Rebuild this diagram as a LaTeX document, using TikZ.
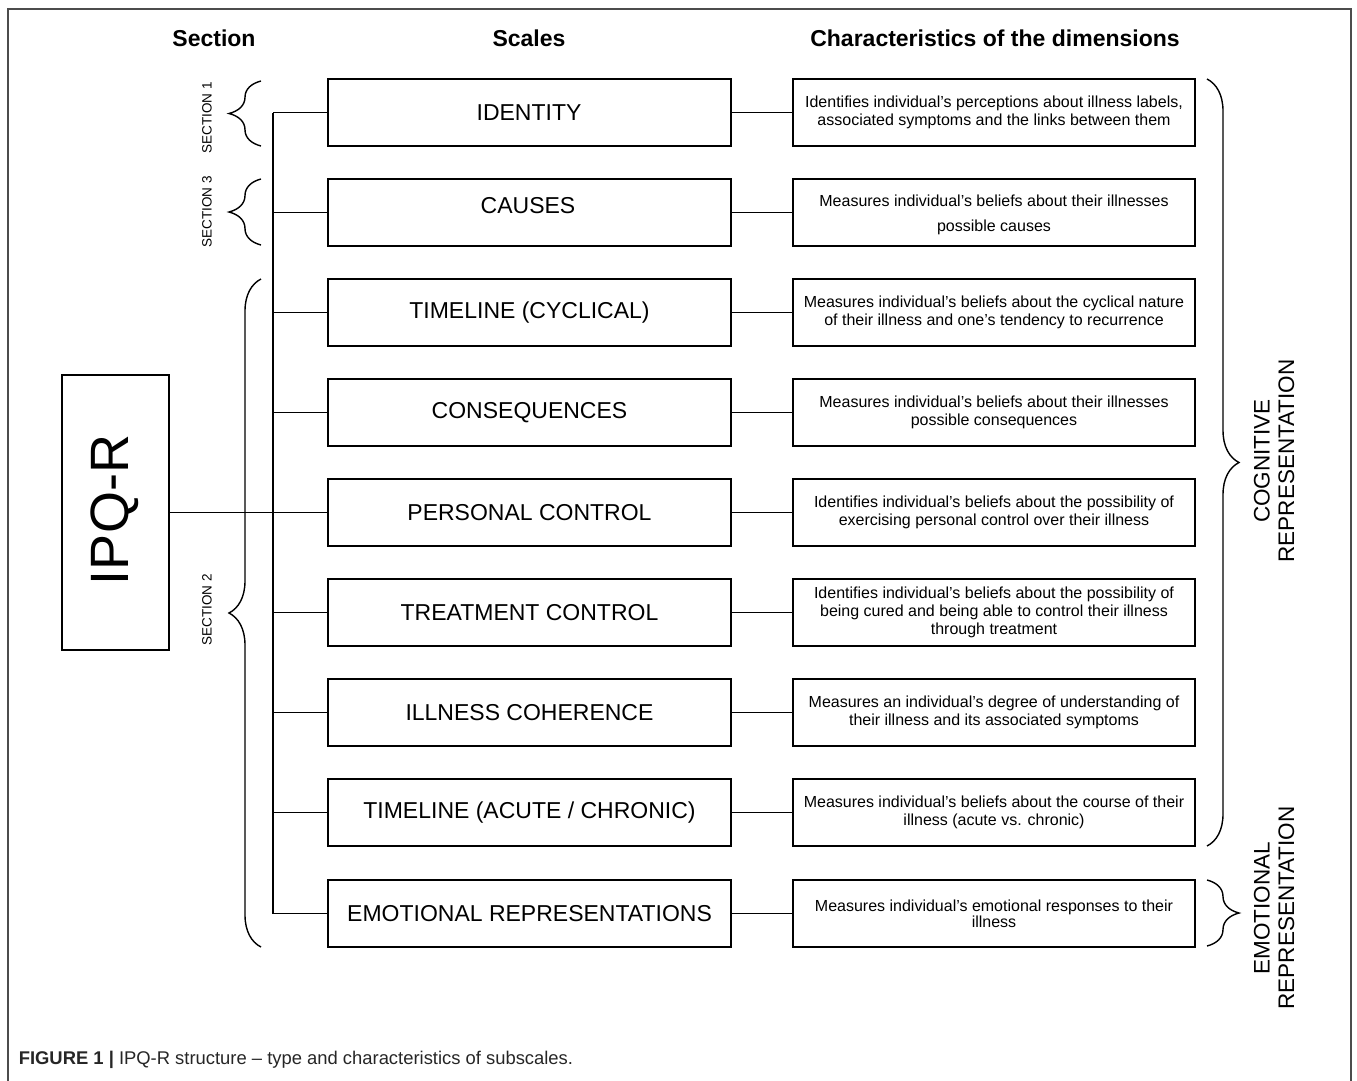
\documentclass[tikz,border=0pt]{standalone}
\usepackage{fontspec}
\setmainfont{Liberation Sans}
\usetikzlibrary{decorations.pathreplacing}
\begin{document}
\begin{tikzpicture}[x=1pt,y=-1pt,line width=1.6pt,
  scalebox/.style={draw,line width=1.6pt,minimum width=403pt,minimum height=67pt,inner sep=0pt,font=\fontsize{23}{27}\selectfont},
  descbox/.style={draw,line width=1.6pt,minimum width=402pt,minimum height=67pt,inner sep=0pt,align=center,font=\fontsize{16}{18}\selectfont},
  header/.style={font=\fontsize{23}{27}\selectfont\bfseries},
  seclabel/.style={rotate=90,font=\fontsize{13.5}{16}\selectfont},
  replabel/.style={rotate=90,align=center,font=\fontsize{22.5}{24.5}\selectfont},
  bracestyle/.style={decorate,decoration={brace,amplitude=32pt},line width=1.4pt},
  link/.style={line width=1.4pt}]
\useasboundingbox (0,0) rectangle (1357,1080);
% frame
\draw[line width=1.5pt,black!70] (8,1082) -- (8,9) -- (1351,9) -- (1351,1082);
% headers
\node[header] (h1) at (214,38) {Section};
\node[header] (h2) at (529,38) {Scales};
\node[header] (h3) at (995,38) {Characteristics of the dimensions};
% IPQ-R
\node[draw,line width=1.9pt,minimum width=107pt,minimum height=275pt,inner sep=0pt] (ipq) at (115.5,512.5) {};
\node[rotate=90,font=\fontsize{54}{60}\selectfont] (ipqt) at (114.5,510) {IPQ-R};
% scale boxes
\node[scalebox] (s1) at (529.5,112.5) {};
\node[font=\fontsize{23}{27}\selectfont] (s1t) at (529,113) {IDENTITY};
\node[scalebox] (s2) at (529.5,212.5) {};
\node[font=\fontsize{23}{27}\selectfont] (s2t) at (528,206) {CAUSES};
\node[scalebox] (s3) at (529.5,312.5) {TIMELINE (CYCLICAL)};
\node[scalebox] (s4) at (529.5,412.5) {CONSEQUENCES};
\node[scalebox] (s5) at (529.5,512.5) {PERSONAL CONTROL};
\node[scalebox] (s6) at (529.5,612.5) {TREATMENT CONTROL};
\node[scalebox] (s7) at (529.5,712.5) {ILLNESS COHERENCE};
\node[scalebox] (s8) at (529.5,812.5) {TIMELINE (ACUTE / CHRONIC)};
\node[scalebox] (s9) at (529.5,913.5) {EMOTIONAL REPRESENTATIONS};
% description boxes
\node[descbox] (d1) at (994,112.5) {Identifies individual’s perceptions about illness labels,\\associated symptoms and the links between them};
\node[descbox] (d2) at (994,212.5) {};
\node[align=center,font=\fontsize{16}{25}\selectfont] (d2t) at (994,215) {Measures individual’s beliefs about their illnesses\\possible causes};
\node[descbox] (d3) at (994,312.5) {Measures individual’s beliefs about the cyclical nature\\of their illness and one’s tendency to recurrence};
\node[descbox] (d4) at (994,412.5) {Measures individual’s beliefs about their illnesses\\possible consequences};
\node[descbox] (d5) at (994,512.5) {Identifies individual’s beliefs about the possibility of\\exercising personal control over their illness};
\node[descbox] (d6) at (994,612.5) {Identifies individual’s beliefs about the possibility of\\being cured and being able to control their illness\\through treatment};
\node[descbox] (d7) at (994,712.5) {Measures an individual's degree of understanding of\\their illness and its associated symptoms};
\node[descbox] (d8) at (994,812.5) {Measures individual’s beliefs about the course of their\\illness (acute vs. chronic)};
\node[descbox,font=\fontsize{16}{16}\selectfont] (d9) at (994,913.5) {Measures individual's emotional responses to their\\illness};
% trunk
\coordinate (trunk) at (273,0);
\draw[link] (s1.west -| trunk) -- (s9.west -| trunk);
\foreach \i in {1,...,9} {
  \draw[link] (s\i.west -| trunk) -- (s\i.west);
  \draw[link] (s\i.east) -- (d\i.west);
}
\draw[link] (ipq.east) -- (s5.west);
% left braces
\coordinate (b1a) at (261,146); \coordinate (b1b) at (261,81);
\coordinate (b3a) at (261,245); \coordinate (b3b) at (261,179);
\coordinate (b2a) at (261,947); \coordinate (b2b) at (261,279);
\draw[bracestyle] (b1a) -- (b1b);
\draw[bracestyle] (b3a) -- (b3b);
\draw[bracestyle] (b2a) -- (b2b);
\node[seclabel] (l1) at (207,118) {SECTION 1};
\node[seclabel] (l3) at (207,212) {SECTION 3};
\node[seclabel] (l2) at (207,610) {SECTION 2};
% right braces
\coordinate (rc1) at (1207,79); \coordinate (rc2) at (1207,846);
\coordinate (re1) at (1207,880); \coordinate (re2) at (1207,946);
\draw[bracestyle] (rc1) -- (rc2);
\draw[bracestyle] (re1) -- (re2);
\node[replabel] (cog) at (1274,461) {COGNITIVE\\REPRESENTATION};
\node[replabel] (emo) at (1274,908) {EMOTIONAL\\REPRESENTATION};
% caption
\node[anchor=west,font=\fontsize{18.4}{20}\selectfont,text=black!85,inner sep=0pt] (cap) at (18,1060) {\textbf{FIGURE 1 |} IPQ-R structure – type and characteristics of subscales.};
\end{tikzpicture}
\end{document}
